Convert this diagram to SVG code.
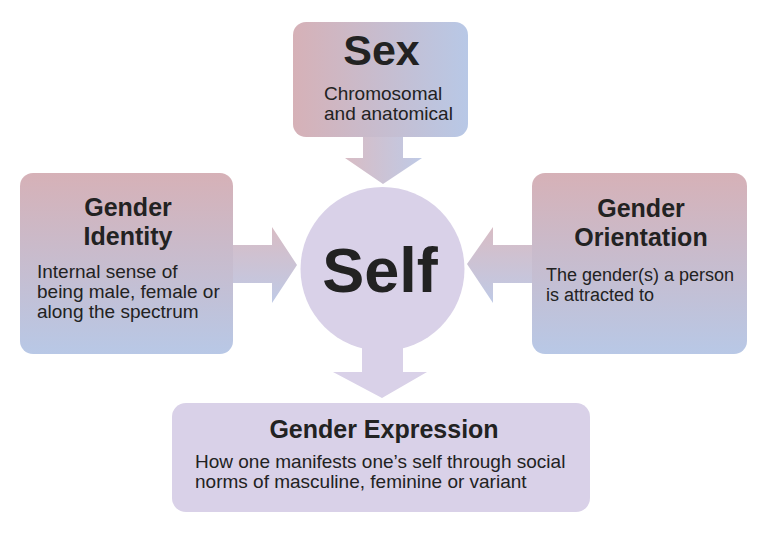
<svg xmlns="http://www.w3.org/2000/svg" width="767" height="535" viewBox="0 0 767 535">
<defs>
<linearGradient id="gh" x1="0" y1="0" x2="1" y2="0">
<stop offset="0" stop-color="#d6b1b7"/>
<stop offset="1" stop-color="#b8c8e6"/>
</linearGradient>
<linearGradient id="gv" x1="0" y1="0" x2="0" y2="1">
<stop offset="0" stop-color="#d6b1b7"/>
<stop offset="1" stop-color="#b8c8e6"/>
</linearGradient>
<linearGradient id="ah" x1="0" y1="0" x2="1" y2="0">
<stop offset="0" stop-color="#d8bcc4"/>
<stop offset="1" stop-color="#bfcae6"/>
</linearGradient>
<linearGradient id="av" x1="0" y1="0" x2="0" y2="1">
<stop offset="0" stop-color="#d8bcc4"/>
<stop offset="1" stop-color="#bfcae6"/>
</linearGradient>
</defs>
<style>
.t{font-family:"Liberation Sans",Arial,sans-serif;font-weight:bold;fill:#222222;text-anchor:middle}
.b{font-family:"Liberation Sans",Arial,sans-serif;font-size:19px;fill:#222222}
.s{font-size:18px}
.lav{fill:#d9d1e8}
</style>
<rect width="767" height="535" fill="#ffffff"/>
<g id="connectors">
<path d="M363,137 H403 V158 H422 L383,184 L345,158 H363 Z" fill="url(#ah)"/>
<path d="M233,245 H272 V227 L297,265 L272,303 V283 H233 Z" fill="url(#av)"/>
<path d="M532,245 H493 V227 L467,264 L493,303 V283 H532 Z" fill="url(#av)"/>
<path class="lav" d="M362,340 H403 V372 H427 L382,398 L333,372 H362 Z"/>
</g>
<g id="sex">
<rect x="293" y="22" width="175" height="115" rx="13" fill="url(#gh)"/>
<text class="t" x="381.5" y="65" font-size="43">Sex</text>
<text class="b" x="324" y="100">Chromosomal</text>
<text class="b" x="324" y="120">and anatomical</text>
</g>
<g id="identity">
<rect x="20" y="173" width="213" height="181" rx="13" fill="url(#gv)"/>
<text class="t" x="128" y="216" font-size="25">Gender</text>
<text class="t" x="128" y="245" font-size="25">Identity</text>
<text class="b" x="37" y="278">Internal sense of</text>
<text class="b" x="37" y="298">being male, female or</text>
<text class="b" x="37" y="318">along the spectrum</text>
</g>
<g id="orientation">
<rect x="532" y="173" width="215" height="181" rx="13" fill="url(#gv)"/>
<text class="t" x="641" y="217" font-size="25">Gender</text>
<text class="t" x="641" y="246" font-size="25">Orientation</text>
<text class="b s" x="546" y="281">The gender(s) a person</text>
<text class="b s" x="546" y="301">is attracted to</text>
</g>
<g id="self">
<circle class="lav" cx="382.5" cy="269" r="82"/>
<text class="t" x="380" y="292" font-size="63">Self</text>
</g>
<g id="expression">
<rect class="lav" x="172" y="403" width="418" height="109" rx="14"/>
<text class="t" x="384" y="438" font-size="25">Gender Expression</text>
<text class="b" x="195" y="468">How one manifests one’s self through social</text>
<text class="b" x="195" y="488">norms of masculine, feminine or variant</text>
</g>
</svg>
